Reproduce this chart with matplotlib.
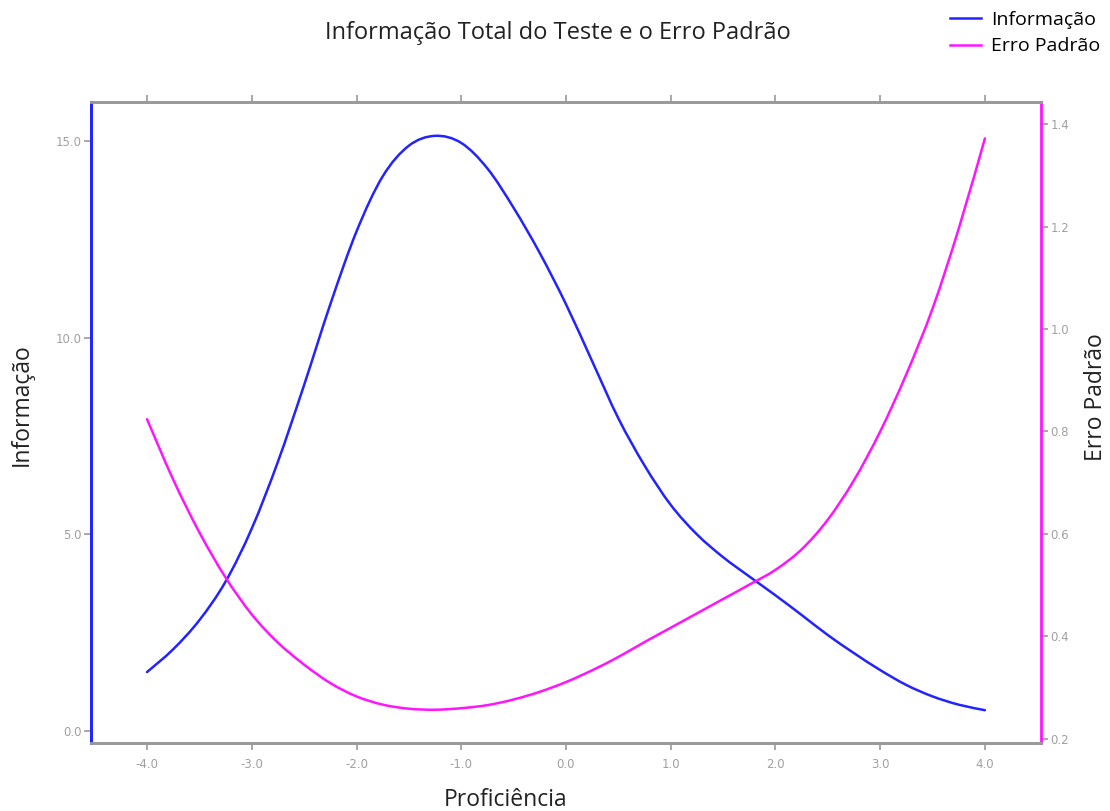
import matplotlib
matplotlib.use("Agg")
import matplotlib.pyplot as plt
import numpy as np
from matplotlib.path import Path
from matplotlib.patches import PathPatch
from matplotlib.lines import Line2D
from matplotlib.ticker import FormatStrFormatter

plt.rcParams['font.family'] = ['Open Sans', 'DejaVu Sans']

# Proficiency grid (theta)
theta = [-4.0, -3.75, -3.5, -3.25, -3.0, -2.75, -2.5, -2.25, -2.0, -1.75, -1.5,
         -1.25, -1.0, -0.75, -0.5, -0.25, 0.0, 0.25, 0.5, 0.75, 1.0, 1.25, 1.5,
         1.75, 2.0, 2.25, 2.5, 2.75, 3.0, 3.25, 3.5, 3.75, 4.0]

# Total test information
informacao = [1.50, 2.08, 2.82, 3.80, 5.15, 6.85, 8.80, 10.85, 12.7, 14.1, 14.88,
              15.13, 14.95, 14.3, 13.3, 12.15, 10.85, 9.4, 7.95, 6.75, 5.75, 5.0,
              4.42, 3.93, 3.45, 2.95, 2.44, 1.98, 1.55, 1.17, 0.88, 0.67, 0.53]

# Standard error of measurement
erro_padrao = [0.824, 0.706, 0.603, 0.515, 0.443, 0.388, 0.345, 0.309, 0.283, 0.267,
               0.259, 0.257, 0.260, 0.266, 0.277, 0.292, 0.311, 0.334, 0.360, 0.389,
               0.417, 0.445, 0.473, 0.501, 0.530, 0.570, 0.628, 0.705, 0.800, 0.912,
               1.040, 1.196, 1.372]

x_ticks = [-4.0, -3.0, -2.0, -1.0, 0.0, 1.0, 2.0, 3.0, 4.0]
y_left_ticks = [0.0, 5.0, 10.0, 15.0]
y_right_ticks = [0.2, 0.4, 0.6, 0.8, 1.0, 1.2, 1.4]

BLUE = '#2323ff'
MAGENTA = '#ff14ff'
GRAY = '#9a9a9a'
TICK_TXT = '#a0a0a0'
TXT = '#222222'
LW = 1.8


def spline_path(xs, ys):
    """Smooth (Catmull-Rom style) cubic Bezier path through the points."""
    p = np.column_stack([xs, ys]).astype(float)
    n = len(p)
    verts = [p[0]]
    codes = [Path.MOVETO]
    for i in range(n - 1):
        p0 = p[i - 1] if i > 0 else p[i]
        p1 = p[i]
        p2 = p[i + 1]
        p3 = p[i + 2] if i + 2 < n else p[i + 1]
        c1 = p1 + (p2 - p0) / 6.0
        c2 = p2 - (p3 - p1) / 6.0
        verts += [c1, c2, p2]
        codes += [Path.CURVE4] * 3
    return Path(verts, codes)


fig = plt.figure(figsize=(11.10, 8.11), dpi=100)
ax = fig.add_axes([0.0820, 0.0838, 0.8558, 0.7904])
ax2 = ax.twinx()

ax.add_patch(PathPatch(spline_path(theta, informacao), facecolor='none',
                       edgecolor=BLUE, lw=LW, capstyle='round'))
ax2.add_patch(PathPatch(spline_path(theta, erro_padrao), facecolor='none',
                        edgecolor=MAGENTA, lw=LW, capstyle='round'))

ax.set_xlim(-4.535, 4.535)
ax.set_ylim(-0.305, 15.99)
ax2.set_ylim(0.192, 1.443)

ax.set_xticks(x_ticks)
ax.set_yticks(y_left_ticks)
ax2.set_yticks(y_right_ticks)
ax.xaxis.set_major_formatter(FormatStrFormatter('%.1f'))
ax.yaxis.set_major_formatter(FormatStrFormatter('%.1f'))
ax2.yaxis.set_major_formatter(FormatStrFormatter('%.1f'))

for a in (ax, ax2):
    for s in a.spines.values():
        s.set_linewidth(2.0)
        s.set_color(GRAY)
ax.spines['left'].set_color(BLUE)
ax2.spines['left'].set_color(BLUE)
ax2.spines['right'].set_color(MAGENTA)
ax.spines['right'].set_visible(False)

ax.tick_params(axis='x', which='both', top=True, bottom=True, labeltop=False,
               direction='out', length=5, width=1.2, color=GRAY,
               labelsize=8.5, labelcolor=TICK_TXT, pad=6)
ax.tick_params(axis='y', direction='out', length=5, width=1.2, color=GRAY,
               labelsize=8.5, labelcolor=TICK_TXT, pad=2)
ax2.tick_params(axis='y', direction='out', length=5, width=1.2, color=GRAY,
                labelsize=8.5, labelcolor=TICK_TXT, pad=2)
for lab in ax.get_xticklabels() + ax.get_yticklabels() + ax2.get_yticklabels():
    lab.set_family('DejaVu Sans')

fig.text(22 / 1110, 1 - 405 / 811, 'Informação', fontsize=16.5, color=TXT,
         rotation=90, ha='center', va='center')
fig.text(1096 / 1110, 1 - 397 / 811, 'Erro Padrão', fontsize=16.5, color=TXT,
         rotation=90, ha='center', va='center')
fig.text(506 / 1110, 1 - 800 / 811, 'Proficiência', fontsize=16.5, color=TXT,
         ha='center', va='center')

fig.text(558 / 1110, 1 - 33 / 811, 'Informação Total do Teste e o Erro Padrão',
         fontsize=17, color=TXT, ha='center', va='center')

handles = [Line2D([], [], color=BLUE, lw=LW), Line2D([], [], color=MAGENTA, lw=LW)]
fig.legend(handles=handles, labels=['Informação', 'Erro Padrão'],
           loc='upper right', bbox_to_anchor=(1.005, 1.006), frameon=False,
           fontsize=14, handlelength=1.6, handletextpad=0.5,
           labelspacing=0.45, borderpad=0.3)

fig.savefig('out.png', dpi=100)
